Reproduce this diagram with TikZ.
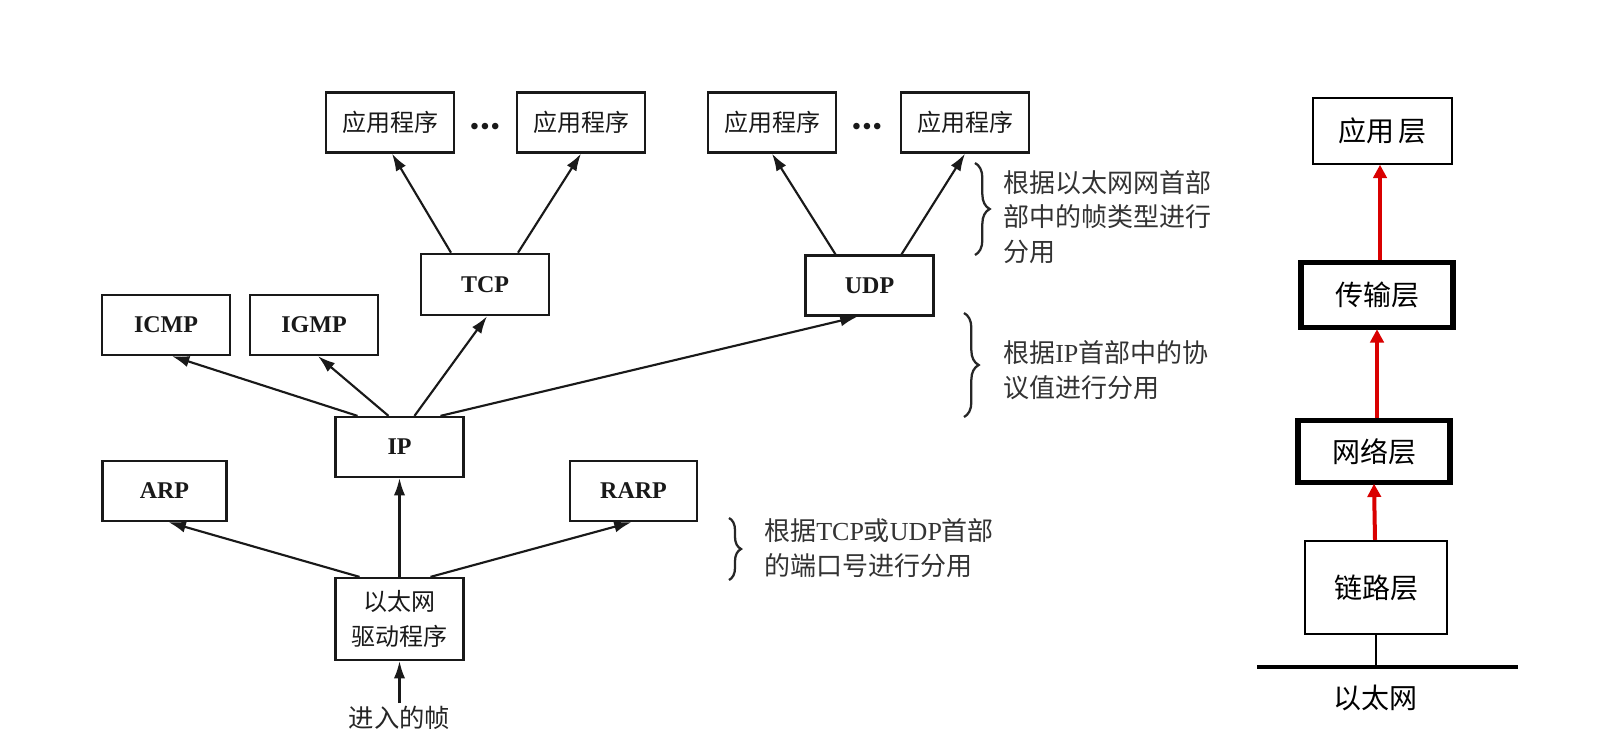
\documentclass[tikz,border=0pt]{standalone}
\usepackage{fontspec}
\setmainfont{Liberation Serif}
\newfontfamily\cjk{Noto Sans CJK SC}
\usetikzlibrary{arrows.meta,calc,decorations.pathreplacing}
\begin{document}
\begin{tikzpicture}[x=0.75pt,y=-0.75pt,
  box/.style={draw=black!90,line width=1.7pt,minimum width=96pt,minimum height=45pt,inner sep=0pt,
    font=\fontsize{18}{26}\selectfont\bfseries,text=black!90,align=center},
  thickbox/.style={draw=black,line width=3.8pt,minimum width=114pt,minimum height=49pt,inner sep=0pt,
    font=\cjk\fontsize{21}{26}\selectfont},
  thinbox/.style={draw=black,line width=1.6pt,minimum width=104pt,minimum height=49pt,inner sep=0pt,
    font=\cjk\fontsize{21}{26}\selectfont},
  arr/.style={line width=1.6pt,draw=black!90,-{Latex[length=13pt,width=8.5pt]}},
  redarr/.style={line width=3pt,draw=red!85!black,-{Triangle[length=10pt,width=10pt]}},
  brc/.style={decorate,decoration={brace,amplitude=11pt},line width=1.7pt,draw=black!85},
  note/.style={font=\fontsize{19.5}{26}\selectfont,text=black!80,align=left,inner sep=0pt,anchor=west},
  dots/.style={font=\fontsize{18}{26}\selectfont\bfseries,text=black!90,inner sep=0pt}
]
\useasboundingbox (0,0) rectangle (1609,747);
\fill[white] (0,0) rectangle (1609,747);

% application boxes
\node[box] (app1) at (390,122.5) {\mdseries\cjk 应用程序};
\node[dots] (d1) at (485,129) {\textbullet\kern1.5pt\textbullet\kern1.5pt\textbullet};
\node[box] (app2) at (581,122.5) {\mdseries\cjk 应用程序};
\node[box] (app3) at (772,122.5) {\mdseries\cjk 应用程序};
\node[dots] (d2) at (867,129) {\textbullet\kern1.5pt\textbullet\kern1.5pt\textbullet};
\node[box] (app4) at (965,122.5) {\mdseries\cjk 应用程序};

% transport
\node[box,minimum height=46pt] (tcp) at (485,284.5) {TCP};
\node[box,minimum height=45pt] (udp) at (869.5,285.5) {UDP};

% network
\node[box] (icmp) at (166,325) {ICMP};
\node[box] (igmp) at (314,325) {IGMP};
\node[box] (ip) at (399.5,447) {IP};

% link
\node[box,minimum width=93pt] (arp) at (164.5,491) {ARP};
\node[box,minimum width=95pt] (rarp) at (633.5,491) {RARP};
\node[box,minimum height=61.5pt] (drv) at (399.5,619) {\mdseries\cjk 以太网\\\mdseries\cjk 驱动程序};
\node[font=\cjk\fontsize{19}{24}\selectfont,text=black!85,inner sep=0pt] (frm) at (399.5,718) {进入的帧};
\coordinate (in) at (399.5,703);

% arrows
\draw[arr] ($(tcp.north)+(-34,0)$) -- ($(app1.south)+(2,0)$);
\draw[arr] ($(tcp.north)+(33,0)$) -- (app2.south);
\draw[arr] ($(udp.north)+(-34,0)$) -- (app3.south);
\draw[arr] ($(udp.north)+(32,0)$) -- (app4.south);
\draw[arr] ($(ip.north)+(-42,0)$) -- ($(icmp.south)+(6,0)$);
\draw[arr] ($(ip.north)+(-11,0)$) -- ($(igmp.south)+(4,0)$);
\draw[arr] ($(ip.north)+(15,0)$) -- ($(tcp.south)+(2,0)$);
\draw[arr] ($(ip.north)+(41,0)$) -- ($(udp.south)+(-12,0)$);
\draw[arr] ($(drv.north)+(-40,0)$) -- ($(arp.south)+(4,0)$);
\draw[arr] (drv.north) -- (ip.south);
\draw[arr] ($(drv.north)+(31,0)$) -- ($(rarp.south)+(-2,0)$);
\draw[arr] (in) -- (drv.south);

% braces and notes
\draw[brc] (975,163) coordinate (b1t) -- (975,255) coordinate (b1b);
\node[note] (n1) at (1003,217) {\cjk 根据以太网网首部\\\cjk 部中的帧类型进行\\\cjk 分用};
\draw[brc] (964,313) coordinate (b2t) -- (964,417) coordinate (b2b);
\node[note] (n2) at (1003,370) {{\cjk 根据}IP{\cjk 首部中的协}\\\cjk 议值进行分用};
\draw[brc,decoration={brace,amplitude=9pt}] (729,518) coordinate (b3t) -- (729,580) coordinate (b3b);
\node[note] (n3) at (764,548) {{\cjk 根据}TCP{\cjk 或}UDP{\cjk 首部}\\\cjk 的端口号进行分用};

% right stack
\node[thinbox] (la) at (1382.5,131) {应用\,层};
\node[thickbox] (lt) at (1377,295) {传输层};
\node[thickbox,minimum height=46pt] (ln) at (1374,451.5) {网络层};
\node[thinbox,minimum width=106.5pt,minimum height=70pt] (ll) at (1376,587.5) {链路层};
\coordinate (eL) at (1257,667);
\coordinate (eR) at (1518,667);
\draw[line width=3.2pt] (eL) -- (eR);
\draw[line width=1.6pt] (ll.south) -- (ll.south |- eL);
\node[font=\cjk\fontsize{21}{26}\selectfont,inner sep=0pt] (eth) at (1375,698) {以太网};
\draw[redarr] ($(ll.north)+(-1,0)$) -- ($(ln.south)+(0,-1)$);
\draw[redarr] ($(ln.north)+(3,0)$) -- ($(ln.north |- lt.south)+(3,-1)$);
\draw[redarr] ($(lt.north)+(3,0)$) -- ($(lt.north |- la.south)+(3,0)$);
\end{tikzpicture}
\end{document}
